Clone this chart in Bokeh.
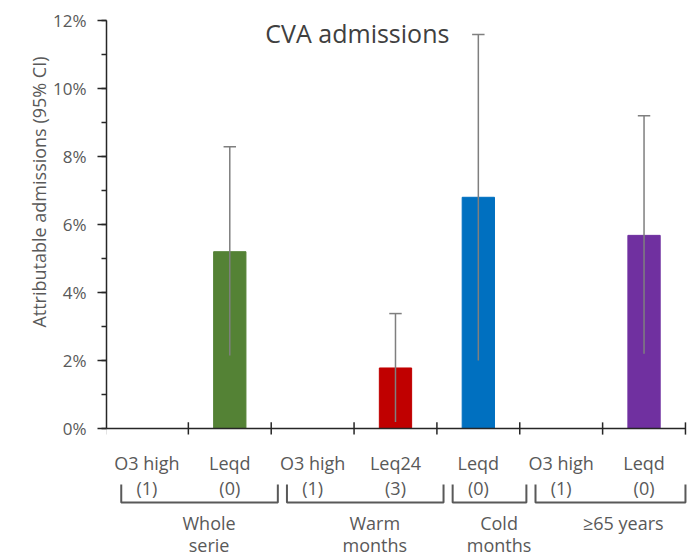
import math
from bokeh.plotting import figure
from bokeh.models import (Range1d, SingleIntervalTicker, PrintfTickFormatter,
                          LinearAxis, Title, ColumnDataSource)
from bokeh.core.properties import value
from bokeh.embed import file_html
from bokeh.resources import INLINE

# ---------------- data ----------------
title_text = "CVA admissions"
y_label = "Attributable admissions (95% CI)"
cat_line1 = ["O3 high", "Leqd", "O3 high", "Leq24", "Leqd", "O3 high", "Leqd"]
cat_line2 = ["(1)", "(0)", "(1)", "(3)", "(0)", "(1)", "(0)"]
bar_values = [None, 5.2, None, 1.78, 6.8, None, 5.68]      # %
ci_lower = [None, 2.15, None, 0.19, 2.0, None, 2.2]         # %
ci_upper = [None, 8.29, None, 3.38, 11.59, None, 9.2]       # %
bar_colors = [None, "#548235", None, "#C00000", "#0070C0", None, "#7030A0"]
group_line1 = ["Whole", "Warm", "Cold", "\u226565 years"]
group_line2 = ["serie", "months", "months", ""]
group_sizes = [2, 2, 1, 2]
y_max = 12
y_step = 2

# ---------------- layout constants ----------------
FONT = "Open Sans"
LABEL_COLOR = "#595959"
AXIS_COLOR = "#262626"
n = len(cat_line1)
bar_w = 0.39
cap_half = 0.075

p = figure(width=693, height=556,
           x_range=Range1d(-0.488, 6.597), y_range=Range1d(-3.765, 12.588),
           x_axis_type=None, y_axis_type=None,
           toolbar_location=None, output_backend="svg",
           min_border_left=106, min_border_right=0,
           min_border_top=0, min_border_bottom=0)
p.outline_line_color = None
p.background_fill_color = "white"
p.border_fill_color = "white"

# y axis
yaxis = LinearAxis(bounds=(0, y_max),
                   ticker=SingleIntervalTicker(interval=y_step, num_minor_ticks=2),
                   formatter=PrintfTickFormatter(format="%d%%"))
yaxis.axis_line_color = AXIS_COLOR
yaxis.axis_line_width = 1.5
yaxis.major_tick_line_color = AXIS_COLOR
yaxis.major_tick_line_width = 1.5
yaxis.major_tick_out = 9
yaxis.major_tick_in = 0
yaxis.minor_tick_line_color = AXIS_COLOR
yaxis.minor_tick_line_width = 1.5
yaxis.minor_tick_out = 5
yaxis.minor_tick_in = 0
yaxis.major_label_text_font = FONT
yaxis.major_label_text_font_size = "17px"
yaxis.major_label_text_color = LABEL_COLOR
yaxis.major_label_standoff = 11
p.add_layout(yaxis, "left")

ytitle = Title(text=y_label, align="right", offset=56, standoff=0,
               text_font=FONT, text_font_size="18px",
               text_font_style="normal", text_color=LABEL_COLOR)
p.add_layout(ytitle, "left")

# bars
idx = [i for i, v in enumerate(bar_values) if v is not None]
src = ColumnDataSource(dict(
    x=idx,
    top=[bar_values[i] for i in idx],
    lo=[ci_lower[i] for i in idx],
    hi=[ci_upper[i] for i in idx],
    color=[bar_colors[i] for i in idx],
    cl=[i - cap_half for i in idx],
    cr=[i + cap_half for i in idx],
))
p.vbar(x="x", top="top", bottom=0, width=bar_w, fill_color="color",
       line_color="color", source=src)
p.segment(x0="x", y0="lo", x1="x", y1="hi", line_color="#7f7f7f",
          line_width=1.5, source=src)
p.segment(x0="cl", y0="hi", x1="cr", y1="hi", line_color="#7f7f7f",
          line_width=1.5, source=src)

# x axis line & ticks at category boundaries
bounds = [i - 0.5 for i in range(n + 1)]
p.segment(x0=[-0.5], y0=[0], x1=[n - 0.5], y1=[0], line_color=AXIS_COLOR,
          line_width=1.5)
p.segment(x0=bounds, y0=[-0.18] * len(bounds), x1=bounds,
          y1=[0.18] * len(bounds), line_color=AXIS_COLOR, line_width=1.5)

# category labels
cx = list(range(n))
p.text(x=cx, y=[-1.02] * n, text=cat_line1, text_align="center",
       text_baseline="alphabetic", text_font=value(FONT),
       text_font_size=value("18px"), text_color=LABEL_COLOR)
p.text(x=cx, y=[-1.76] * n, text=cat_line2, text_align="center",
       text_baseline="alphabetic", text_font=value(FONT),
       text_font_size=value("18px"), text_color=LABEL_COLOR)

# group brackets and labels
gx, gy, gmid = [], [], []
start = -0.5
for size in group_sizes:
    end = start + size
    x0 = start + 0.19
    x1 = min(end + 0.08, n - 0.5)
    gx.append([x0, x0, x1, x1])
    gy.append([-1.65, -2.18, -2.18, -1.65])
    gmid.append((start + end) / 2 + 0.25)
    start = end
p.multi_line(xs=gx, ys=gy, line_color=LABEL_COLOR, line_width=2)
g = len(group_sizes)
p.text(x=gmid, y=[-2.77] * g, text=group_line1, text_align="center",
       text_baseline="alphabetic", text_font=value(FONT),
       text_font_size=value("18px"), text_color=LABEL_COLOR)
p.text(x=gmid, y=[-3.44] * g, text=group_line2, text_align="center",
       text_baseline="alphabetic", text_font=value(FONT),
       text_font_size=value("18px"), text_color=LABEL_COLOR)

# title
p.text(x=[2.54], y=[11.62], text=[title_text], text_align="center",
       text_baseline="alphabetic", text_font=value(FONT),
       text_font_size=value("25px"), text_color="#404040")

open("out.html", "w").write(file_html(p, INLINE))
